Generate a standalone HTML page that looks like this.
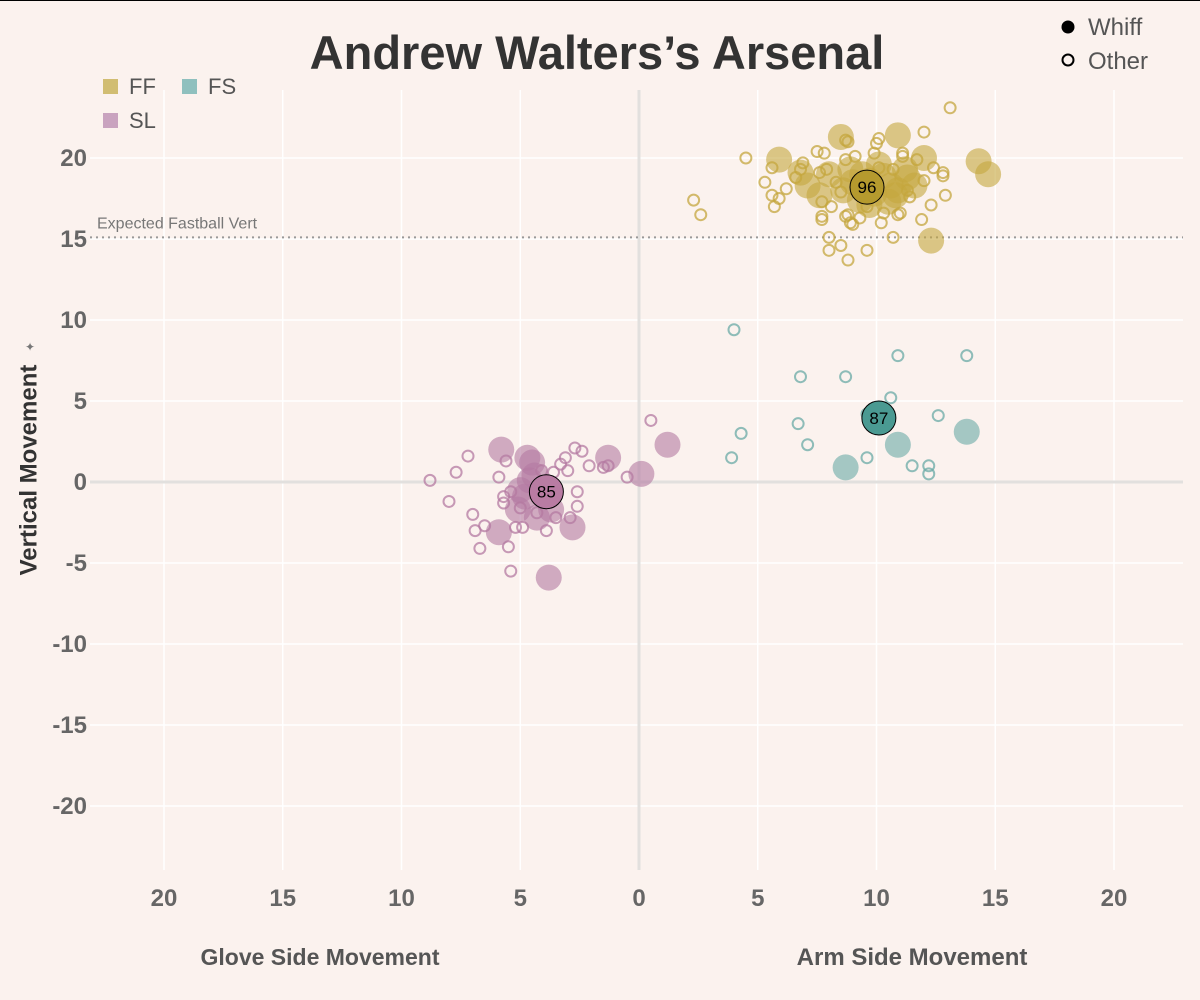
<!DOCTYPE html>
<html><head><meta charset="utf-8"><style>
html,body{margin:0;padding:0;background:#fbf2ee;}
svg{display:block;font-family:"Liberation Sans",sans-serif;}
</style></head><body>
<svg id="chart" width="1200" height="1000" xmlns="http://www.w3.org/2000/svg">
<rect x="0" y="0" width="1200" height="1000" fill="#fbf2ee"/>
<line x1="0" y1="0.5" x2="1200" y2="0.5" stroke="#000" stroke-width="1"/>
<g id="grid"></g>
<g id="marks"></g>
<text x="597" y="69" text-anchor="middle" font-size="47" font-weight="bold" fill="#333">Andrew Walters’s Arsenal</text>
<text x="30" y="470" transform="rotate(-90 30 470)" text-anchor="middle" dominant-baseline="middle" font-size="24" font-weight="bold" fill="#333">Vertical Movement</text>
<text x="30" y="348" font-size="12" fill="#777" text-anchor="middle" dominant-baseline="middle">✦</text>
<text x="320" y="965" text-anchor="middle" font-size="23" font-weight="bold" fill="#555">Glove Side Movement</text>
<text x="912" y="965" text-anchor="middle" font-size="24" font-weight="bold" fill="#555">Arm Side Movement</text>
<g>
<g><rect x="103" y="79" width="15" height="15" fill="#d1bd72"/><text x="129" y="94" font-size="22" fill="#555">FF</text></g>
<g><rect x="182" y="79" width="15" height="15" fill="#8fc0be"/><text x="208" y="94" font-size="22" fill="#555">FS</text></g>
<g><rect x="103" y="113" width="15" height="15" fill="#c9a3bf"/><text x="129" y="128" font-size="22" fill="#555">SL</text></g>
</g>
<g>
<g><circle cx="1068" cy="27" r="6.5" fill="#000"/><text x="1088" y="35" font-size="24" fill="#555">Whiff</text></g>
<g><circle cx="1068" cy="60" r="5.5" fill="none" stroke="#000" stroke-width="2"/><text x="1088" y="69" font-size="24" fill="#555">Other</text></g>
</g>
</svg>
<script>
const xTicks=[-20,-15,-10,-5,0,5,10,15,20];
const yTicks=[20,15,10,5,0,-5,-10,-15,-20];
const expectedVert=15.1;
const ffWhiffX=[5.9,8.5,10.9,12.0,14.3,14.7,12.3,7.1,6.8,9.7,10.6,9.3,11.2,8.9,8.0,10.1,7.6,10.8,11.6,9.7,9.0,10.3,10.9,9.9,8.6,11.3,9.4,10.5];
const ffWhiffY=[19.9,21.3,21.4,20.0,19.8,19.0,14.9,18.3,19.1,18.6,18.3,17.4,19.3,19.3,19.0,19.6,17.7,17.7,18.3,17.1,18.5,18.9,18.0,17.8,18.0,18.8,19.0,17.3];
const ffOtherX=[13.1,4.5,2.3,2.6,12.0,5.3,5.6,5.6,5.7,5.9,6.2,7.5,7.8,8.7,8.8,10.1,10.0,11.1,11.1,11.7,12.4,12.8,12.8,12.0,12.9,12.3,11.9,10.7,8.0,8.0,8.5,8.8,9.6,7.7,7.7,8.8,9.0,9.3,10.2,10.9,11.0,8.7,8.9,7.7,8.1,8.5,7.9,7.6,8.3,8.7,9.1,9.9,10.1,10.7,11.4,11.3,10.3,9.6,6.9,6.6,6.8];
const ffOtherY=[23.1,20.0,17.4,16.5,21.6,18.5,19.4,17.7,17.0,17.5,18.1,20.4,20.3,21.1,21.0,21.2,20.9,20.3,20.1,19.9,19.4,19.1,18.9,18.6,17.7,17.1,16.2,15.1,15.1,14.3,14.6,13.7,14.3,16.4,16.2,16.5,15.9,16.3,16.0,16.5,16.6,16.4,16.0,17.3,17.0,17.9,19.3,19.1,18.5,19.9,20.1,20.3,19.4,19.3,17.6,18.0,16.6,17.0,19.7,18.8,19.3];
const slWhiffX=[-5.8,-4.7,-4.5,-1.3,0.1,1.2,-5.0,-4.6,-5.1,-4.3,-3.7,-5.9,-2.8,-3.8,-4.8,-4.4];
const slWhiffY=[2.0,1.5,1.2,1.5,0.5,2.3,-0.5,0.1,-1.7,-2.2,-1.7,-3.1,-2.8,-5.9,-0.9,0.4];
const slOtherX=[0.5,-7.2,-7.7,-8.8,-8.0,-7.0,-6.9,-6.5,-6.7,-5.5,-5.4,-5.6,-5.9,-5.4,-5.7,-5.7,-5.0,-5.2,-4.9,-3.9,-3.5,-2.9,-2.6,-2.6,-3.0,-3.3,-3.1,-2.7,-2.4,-2.1,-1.5,-1.3,-0.5,-3.6,-4.1,-4.3];
const slOtherY=[3.8,1.6,0.6,0.1,-1.2,-2.0,-3.0,-2.7,-4.1,-4.0,-5.5,1.3,0.3,-0.6,-0.9,-1.3,-1.6,-2.8,-2.8,-3.0,-2.2,-2.2,-1.5,-0.6,0.7,1.1,1.5,2.1,1.9,1.0,0.9,1.0,0.3,0.6,0.7,-1.9];
const fsWhiffX=[8.7,10.9,13.8];
const fsWhiffY=[0.9,2.3,3.1];
const fsOtherX=[4.0,6.8,8.7,10.9,13.8,6.7,7.1,9.6,10.6,12.6,11.5,12.2,12.2,3.9,4.3,9.6];
const fsOtherY=[9.4,6.5,6.5,7.8,7.8,3.6,2.3,1.5,5.2,4.1,1.0,1.0,0.5,1.5,3.0,4.2];
const avgPitch=["FF","SL","FS"];
const avgX=[9.6,-3.9,10.1];
const avgY=[18.2,-0.6,3.95];
const avgVelo=["96","85","87"];

const NS="http://www.w3.org/2000/svg";
const X0=639,XS=23.75,Y0=482,YS=16.2;
function sx(v){return X0+XS*v;}
function sy(v){return Y0-YS*v;}
function mk(tag,attrs,parent){const e=document.createElementNS(NS,tag);for(const k in attrs)e.setAttribute(k,attrs[k]);parent.appendChild(e);return e;}
const grid=document.getElementById('grid');
const marks=document.getElementById('marks');
const svg=document.getElementById('chart');
xTicks.forEach(t=>{
  if(t!==0){const l=mk('line',{x1:sx(t),x2:sx(t),y1:90,y2:870,stroke:'#ffffff','stroke-width':1.5},grid);
  
  }
  const tx=mk('text',{x:sx(t),y:906,'text-anchor':'middle','font-size':24,'font-weight':'bold',fill:'#666'},svg);
  tx.textContent=Math.abs(t);
  
  
});
yTicks.forEach(t=>{
  if(t!==0){const l=mk('line',{x1:90,x2:1183,y1:sy(t),y2:sy(t),stroke:'#ffffff','stroke-width':1.5},grid);
  
  }
  const tx=mk('text',{x:87,y:sy(t)+8,'text-anchor':'end','font-size':24,'font-weight':'bold',fill:'#666'},svg);
  tx.textContent=t;
  
  
});
const zx=mk('line',{x1:sx(0),x2:sx(0),y1:90,y2:870,stroke:'#e2e0de','stroke-width':3},grid);


const zy=mk('line',{x1:90,x2:1183,y1:sy(0),y2:sy(0),stroke:'#e2e0de','stroke-width':3},grid);


const ev=mk('line',{x1:90,x2:1183,y1:sy(expectedVert),y2:sy(expectedVert),stroke:'#999','stroke-width':2,'stroke-dasharray':'2 4'},grid);


const evt=mk('text',{x:97,y:sy(expectedVert)-9,'font-size':16,fill:'#777'},grid);
evt.textContent='Expected Fastball Vert';



const colors={FF:'#c4a63e',SL:'#b47aa2',FS:'#6aaaa6'};
const avgColors={FF:'#b59a2e',SL:'#b97ca3',FS:'#4a9a92'};
function others(xs,ys,p){xs.forEach((x,i)=>{
  const c=mk('circle',{cx:sx(x),cy:sy(ys[i]),r:5.5,fill:'none',stroke:colors[p],'stroke-width':2,'stroke-opacity':0.75},marks);
  
  
});}
function whiffs(xs,ys,p){xs.forEach((x,i)=>{
  const c=mk('circle',{cx:sx(x),cy:sy(ys[i]),r:13,fill:colors[p],'fill-opacity':0.6},marks);
  
  
});}
others(ffOtherX,ffOtherY,'FF');others(slOtherX,slOtherY,'SL');others(fsOtherX,fsOtherY,'FS');
whiffs(ffWhiffX,ffWhiffY,'FF');whiffs(slWhiffX,slWhiffY,'SL');whiffs(fsWhiffX,fsWhiffY,'FS');
avgPitch.forEach((p,i)=>{
  const c=mk('circle',{cx:sx(avgX[i]),cy:sy(avgY[i]),r:17,fill:avgColors[p],stroke:'#000','stroke-width':1},marks);
  
  
  const t=mk('text',{x:sx(avgX[i]),y:sy(avgY[i])+6,'text-anchor':'middle','font-size':17,fill:'#000'},marks);
  t.textContent=avgVelo[i];
  
  
});
</script>
</body></html>
